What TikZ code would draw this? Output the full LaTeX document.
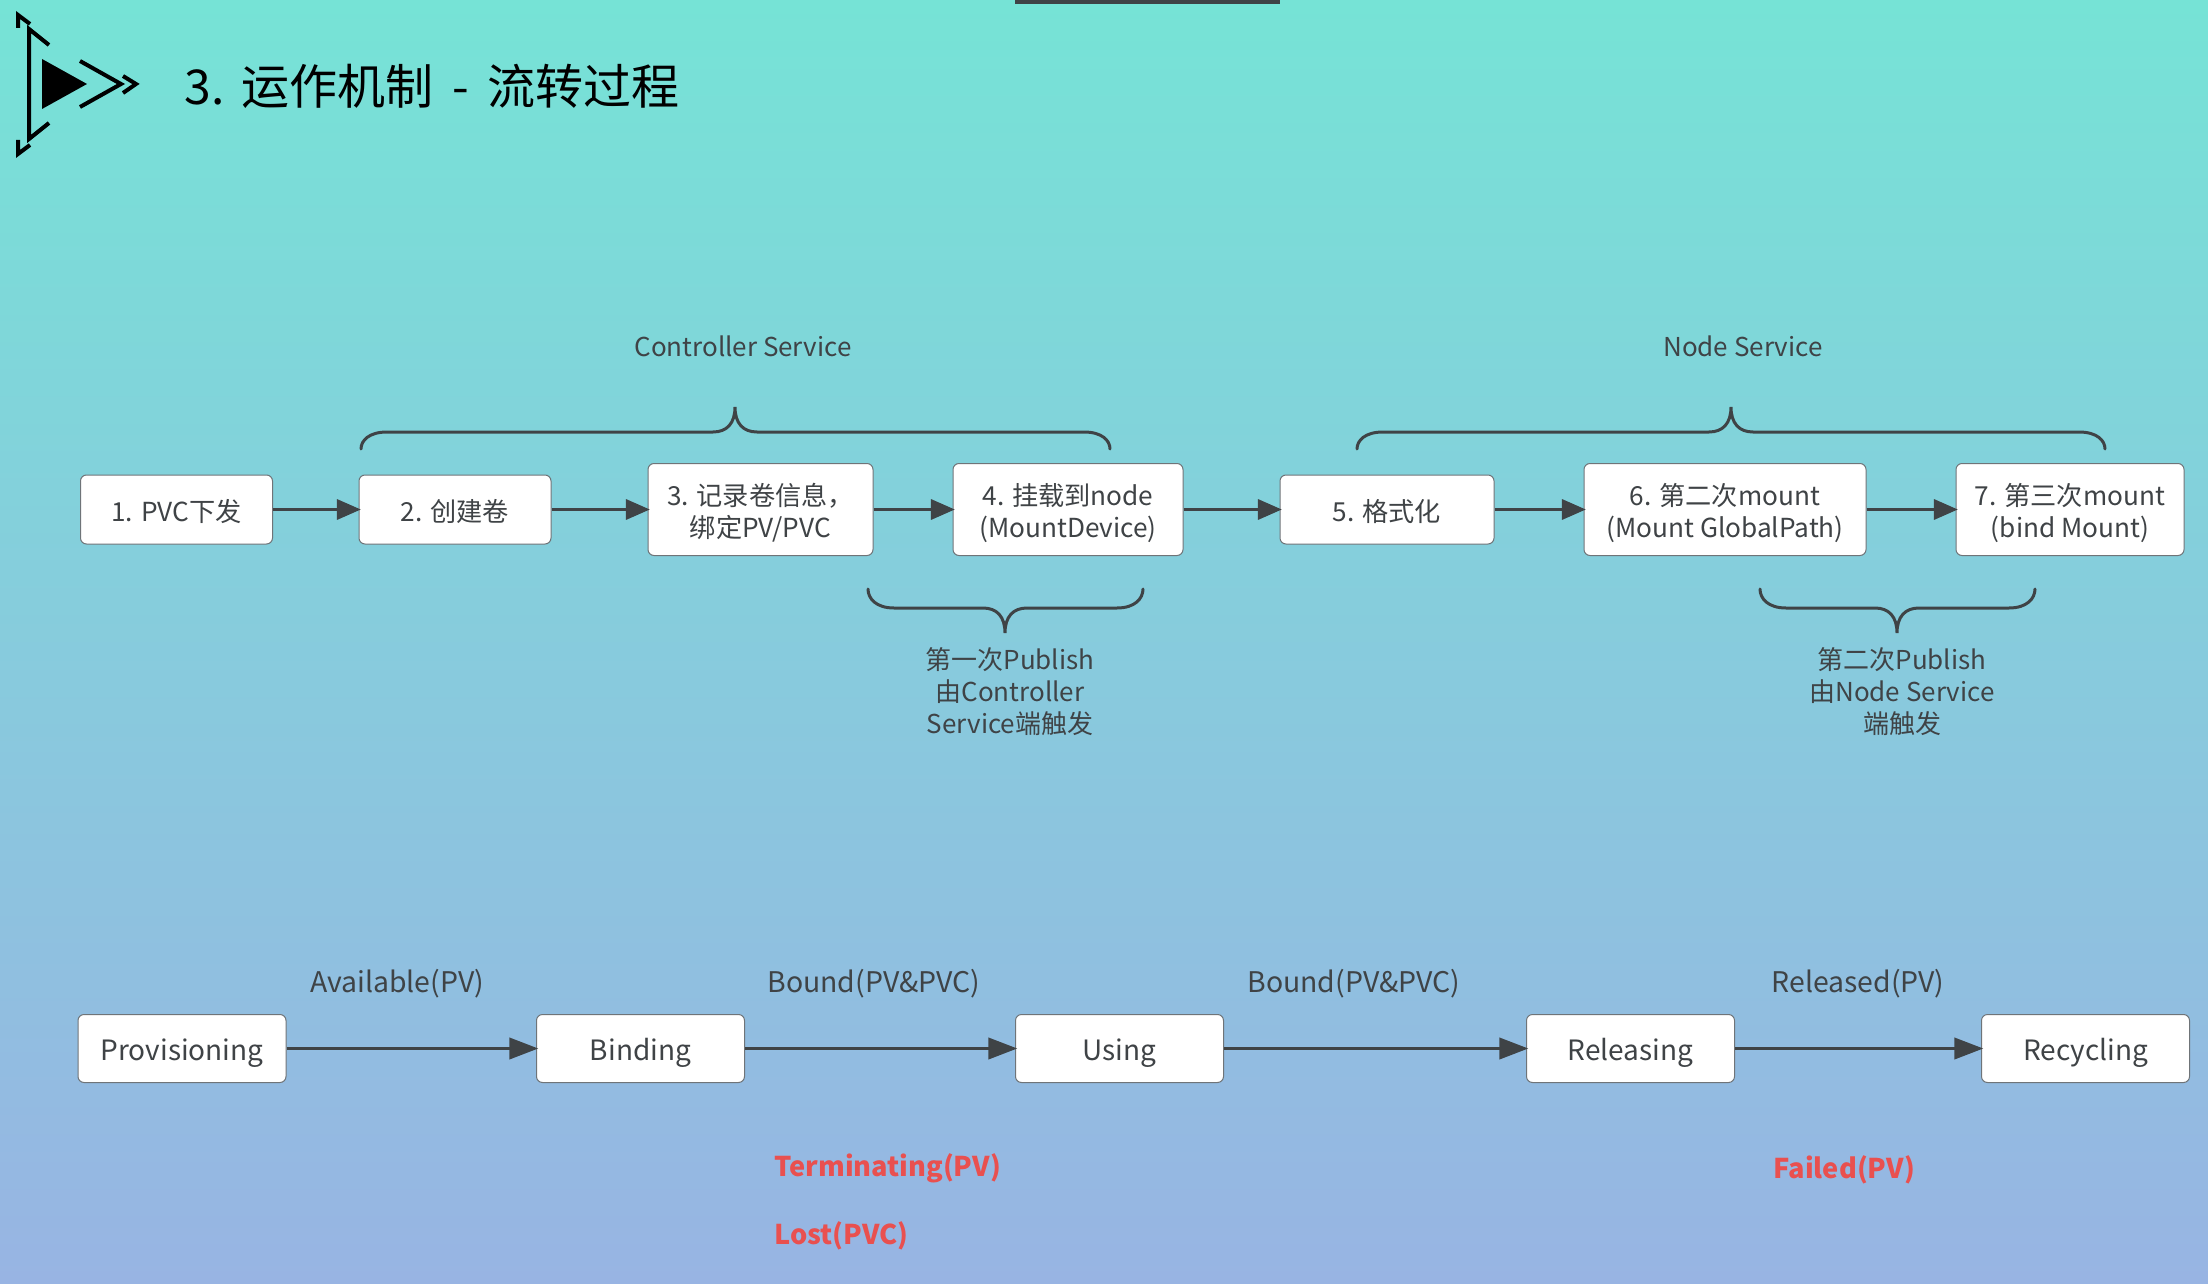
\documentclass[tikz,border=0pt]{standalone}
\usepackage{fontspec}
\setmainfont{Noto Sans CJK SC}
\usetikzlibrary{arrows.meta}
\definecolor{inkgray}{HTML}{3F4346}
\definecolor{edgegray}{HTML}{6F7478}
\definecolor{alertred}{HTML}{E9504F}
\definecolor{bgtop}{HTML}{76E3D6}
\definecolor{bgbottom}{HTML}{98B4E3}
\tikzset{
  x=.5pt,y=-.5pt,
  wpx/.style={minimum width=#1*.5pt},
  hpx/.style={minimum height=#1*.5pt},
  stagebox/.style={draw=edgegray,line width=.5pt,fill=white,rounded corners=3pt,inner sep=0pt,align=center,text=inkgray},
  upperbox/.style={stagebox,font=\fontsize{13.1}{16}\selectfont},
  lowerbox/.style={stagebox,font=\fontsize{14}{17}\selectfont,wpx=208,hpx=68},
  upperflow/.style={draw=inkgray,line width=1.7pt,shorten >=-1.2pt,-{Triangle[length=12pt,width=10pt]}},
  lowerflow/.style={draw=inkgray,line width=1.9pt,shorten >=-1.2pt,-{Triangle[length=14.5pt,width=10.5pt]}},
  bracket/.style={draw=inkgray,line width=1.5pt,line cap=round},
  caption/.style={text=inkgray,font=\fontsize{13}{16}\selectfont,align=center,inner sep=0pt},
  phase/.style={text=inkgray,font=\fontsize{14.2}{17}\selectfont,inner sep=0pt},
  alert/.style={text=alertred,font=\fontsize{13.6}{17}\bfseries\selectfont,inner sep=0pt,anchor=west},
  logoline/.style={draw=black,line width=2pt,line cap=butt,line join=miter}
}
% Box label set a little below the optical centre; the box itself stays put
\newcommand{\boxtext}[2][2.8pt]{\raisebox{-#1}[\height][\depth]{\begin{tabular}{@{}c@{}}#2\end{tabular}}}
% Curly brace: ends at #4, bar at #5, tip at #6; left #1, right #2, tip x #3
\newcommand{\curlybrace}[6]{%
  \draw[bracket] (#1,#4) .. controls (#1,{(#4+#5)/2}) and ({#1+8},#5) .. ({#1+26},#5)
    -- ({#3-22},#5) .. controls ({#3-8},#5) and (#3,{#5+(#6-#5)*.35}) .. (#3,#6)
    .. controls (#3,{#5+(#6-#5)*.35}) and ({#3+8},#5) .. ({#3+22},#5)
    -- ({#2-26},#5) .. controls ({#2-8},#5) and (#2,{(#4+#5)/2}) .. (#2,#4);%
}
\begin{document}
\begin{tikzpicture}
\useasboundingbox (0,0) rectangle (2208,1284);
\shade[top color=bgtop,bottom color=bgbottom] (0,0) rectangle (2208,1284);
\fill[inkgray] (1015,0) rectangle (1280,4);

% Header mark
\draw[logoline] (49,45) -- (29,29) -- (29,139) -- (49,123);
\draw[logoline] (18,28) -- (18,15) -- (30,24);
\draw[logoline] (18,140) -- (18,154) -- (30,145);
\fill[black] (42,59) -- (87,84) -- (42,109) -- cycle;
\draw[logoline] (80,61) -- (121,84) -- (80,107);
\draw[logoline] (123,76) -- (136,84) -- (123,93);
\node[anchor=west,inner sep=0pt,font=\fontsize{24}{28}\selectfont,text=black] (title) at (184,86) {3.\hspace{1.4pt} 运作机制\hspace{4pt} - \hspace{4pt}流转过程};

% Volume lifecycle operations
\node[upperbox,wpx=192,hpx=69] (s1) at (176.5,509.5) {\boxtext{1. PVC下发}};
\node[upperbox,wpx=192,hpx=69] (s2) at (455,509.5) {\boxtext{2. 创建卷}};
\node[upperbox,wpx=225,hpx=92] (s3) at (760.5,509.5) {\boxtext{3. 记录卷信息，\\绑定PV/PVC}};
\node[upperbox,wpx=230,hpx=92] (s4) at (1068,509.5) {\boxtext{4. 挂载到node\\(MountDevice)}};
\node[upperbox,wpx=214,hpx=69] (s5) at (1387,509.5) {\boxtext{5. 格式化}};
\node[upperbox,wpx=282,hpx=92] (s6) at (1725,509.5) {\boxtext{6. 第二次mount\\(Mount GlobalPath)}};
\node[upperbox,wpx=228,hpx=92] (s7) at (2070,509.5) {\boxtext{7. 第三次mount\\(bind Mount)}};
\foreach \a/\b in {s1/s2,s2/s3,s3/s4,s4/s5,s5/s6,s6/s7}
  \draw[upperflow] (\a) -- (\b);

\curlybrace{361}{1110}{735}{449}{432}{407}
\curlybrace{1357}{2105}{1731}{449}{432}{407}
\curlybrace{868}{1143}{1005}{589}{608}{633}
\curlybrace{1760}{2035}{1897}{589}{608}{633}

\node[caption] (cs) at (743,346) {Controller Service};
\node[caption] (ns) at (1743,346) {Node Service};
\node[caption] (p1) at (1010,691.5) {第一次Publish\\由Controller\\Service端触发};
\node[caption] (p2) at (1902,691.5) {第二次Publish\\由Node Service\\端触发};

% Volume phases
\node[lowerbox] (t1) at (182,1048.5) {\boxtext[2.7pt]{Provisioning}};
\node[lowerbox] (t2) at (640.5,1048.5) {\boxtext[2.7pt]{Binding}};
\node[lowerbox] (t3) at (1119.5,1048.5) {\boxtext[2.7pt]{Using}};
\node[lowerbox] (t4) at (1630.5,1048.5) {\boxtext[2.7pt]{Releasing}};
\node[lowerbox] (t5) at (2085.5,1048.5) {\boxtext[2.7pt]{Recycling}};
\foreach \a/\b in {t1/t2,t2/t3,t3/t4,t4/t5}
  \draw[lowerflow] (\a) -- (\b);

\node[phase] (l1) at (397,984) {Available(PV)};
\node[phase] (l2) at (874,984) {Bound(PV\&PVC)};
\node[phase] (l3) at (1354,984) {Bound(PV\&PVC)};
\node[phase] (l4) at (1858,984) {Released(PV)};

\node[alert] (a1) at (774,1168) {Terminating(PV)};
\node[alert] (a2) at (774,1236) {Lost(PVC)};
\node[alert] (a3) at (1773,1170) {Failed(PV)};
\end{tikzpicture}
\end{document}
